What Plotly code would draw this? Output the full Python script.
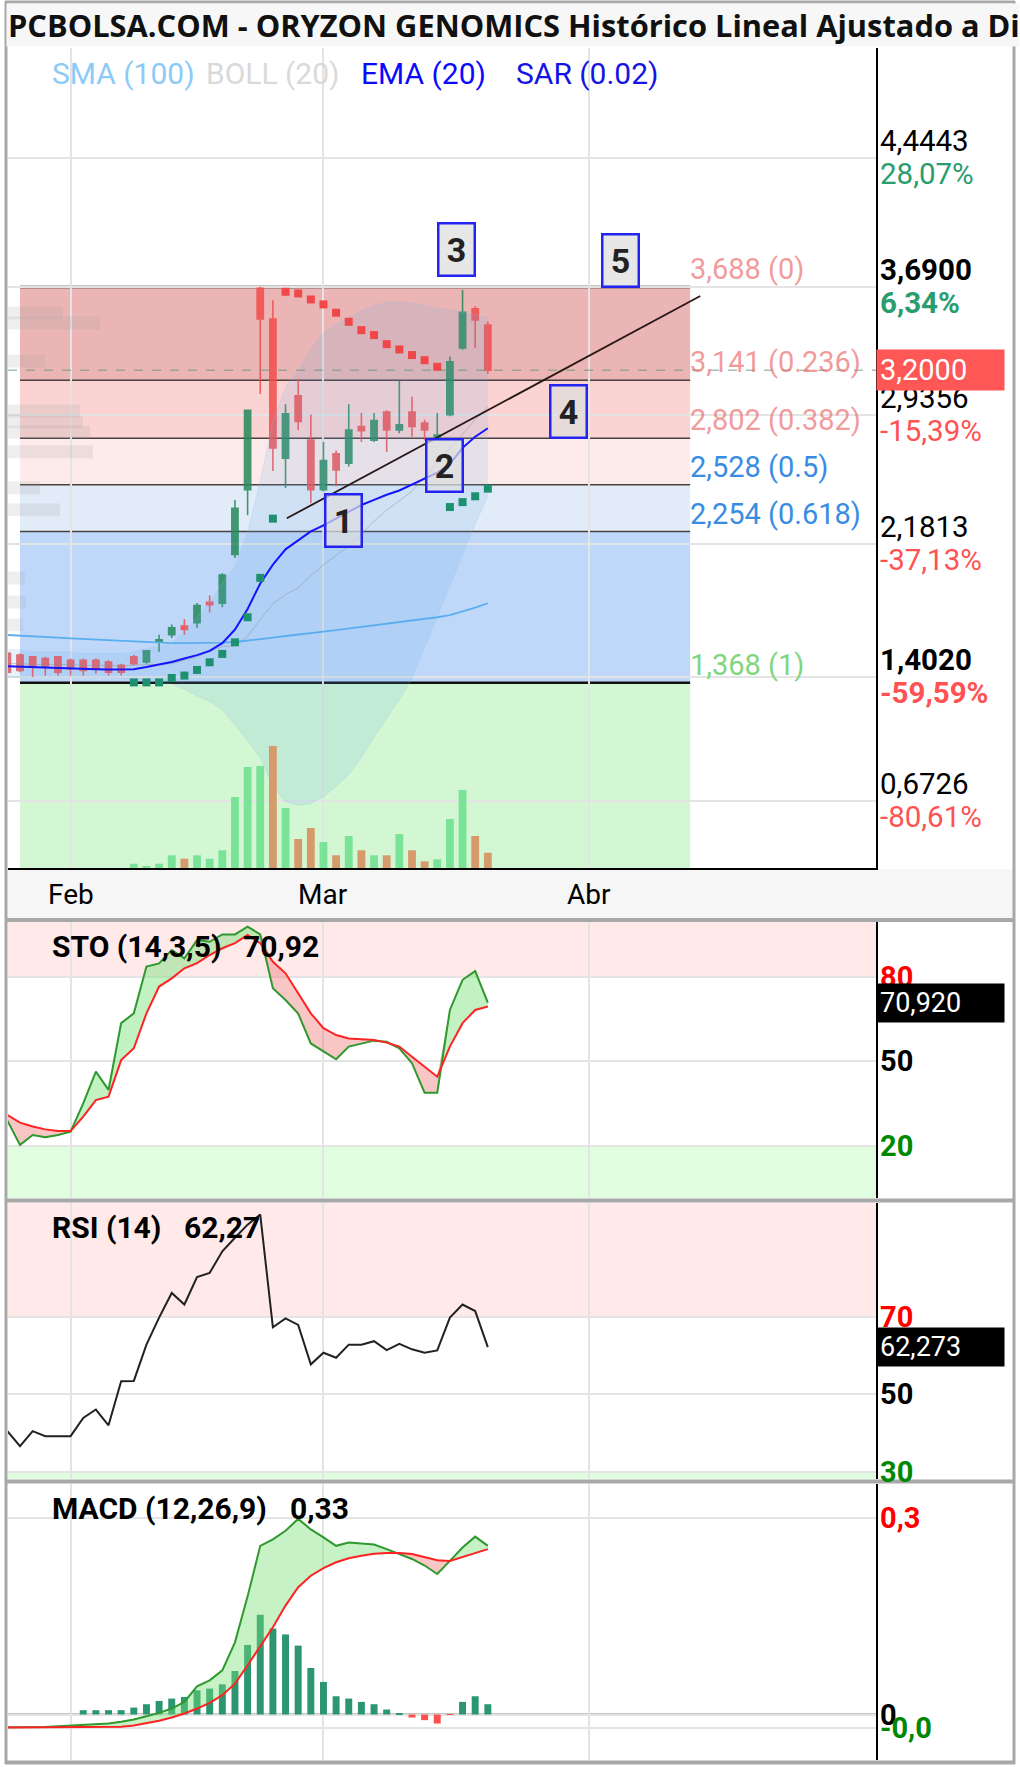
import plotly.graph_objects as go

# ---------------- DATA ----------------
dates = [
    "2025-01-27", "2025-01-28", "2025-01-29", "2025-01-30", "2025-01-31",
    "2025-02-03", "2025-02-04", "2025-02-05", "2025-02-06", "2025-02-07",
    "2025-02-10", "2025-02-11", "2025-02-12", "2025-02-13", "2025-02-14",
    "2025-02-17", "2025-02-18", "2025-02-19", "2025-02-20", "2025-02-21",
    "2025-02-24", "2025-02-25", "2025-02-26", "2025-02-27", "2025-02-28",
    "2025-03-03", "2025-03-04", "2025-03-05", "2025-03-06", "2025-03-07",
    "2025-03-10", "2025-03-11", "2025-03-12", "2025-03-13", "2025-03-14",
    "2025-03-17", "2025-03-18", "2025-03-19", "2025-03-20",
]
opens = [1.54, 1.53, 1.52, 1.51, 1.52, 1.50, 1.50, 1.50, 1.49, 1.47,
         1.52, 1.49, 1.61, 1.65, 1.70, 1.72, 1.84, 1.835, 2.12, 2.50,
         3.68, 3.50, 2.685, 3.05, 2.79, 2.50, 2.71, 2.655, 2.87, 2.79,
         2.955, 2.85, 2.955, 2.89, 2.80, 2.94, 3.33, 3.56, 3.465]
highs = [1.55, 1.54, 1.52, 1.52, 1.52, 1.51, 1.51, 1.51, 1.50, 1.48,
         1.53, 1.56, 1.65, 1.71, 1.74, 1.835, 1.88, 2.01, 2.44, 2.97,
         3.69, 3.61, 3.00, 3.15, 2.94, 2.78, 2.73, 3.00, 2.95, 2.95,
         2.965, 3.14, 3.045, 2.91, 2.95, 3.28, 3.67, 3.575, 3.485]
lows = [1.42, 1.43, 1.402, 1.41, 1.41, 1.41, 1.41, 1.42, 1.41, 1.41,
        1.47, 1.48, 1.55, 1.63, 1.65, 1.69, 1.78, 1.81, 2.10, 2.35,
        3.06, 2.61, 2.51, 2.85, 2.42, 2.49, 2.52, 2.635, 2.78, 2.78,
        2.72, 2.83, 2.81, 2.79, 2.79, 2.93, 3.32, 3.33, 3.18]
closes = [1.43, 1.44, 1.46, 1.46, 1.43, 1.45, 1.44, 1.45, 1.43, 1.43,
          1.48, 1.555, 1.62, 1.69, 1.68, 1.82, 1.825, 2.00, 2.39, 2.965,
          3.50, 2.745, 2.945, 2.90, 2.50, 2.67, 2.615, 2.85, 2.845, 2.905,
          2.85, 2.88, 2.87, 2.85, 2.82, 3.25, 3.54, 3.495, 3.20]
volume = [0, 0, 0, 0, 0, 0, 0, 0, 0, 0,
          0.43, 0.2, 0.43, 1.27, 0.93, 1.27, 0.93, 1.77, 7.1, 10.1,
          10.2, 12.2, 6.0, 2.9, 4.0, 2.6, 1.27, 3.2, 1.77, 1.27,
          1.27, 3.4, 1.77, 0.67, 0.87, 4.9, 7.8, 3.2, 1.53]
volume_dir = ["u"] * 10 + ["u", "u", "u", "u", "d", "u", "u", "u", "u", "u",
                           "u", "d", "u", "d", "d", "u", "d", "u", "d", "u",
                           "d", "u", "d", "d", "u", "u", "u", "d", "d"]
sma100 = [1.648, 1.645, 1.642, 1.638, 1.632, 1.628, 1.624, 1.620, 1.617, 1.614,
          1.610, 1.605, 1.602, 1.600, 1.600, 1.600, 1.600, 1.603, 1.607, 1.614,
          1.622, 1.632, 1.642, 1.652, 1.660, 1.668, 1.677, 1.686, 1.695, 1.705,
          1.714, 1.724, 1.733, 1.742, 1.752, 1.765, 1.785, 1.808, 1.834]
ema20 = [1.465, 1.462, 1.458, 1.455, 1.452, 1.450, 1.448, 1.447, 1.446, 1.445,
         1.447, 1.460, 1.475, 1.490, 1.510, 1.530, 1.555, 1.600, 1.680, 1.800,
         1.950, 2.060, 2.150, 2.200, 2.255, 2.290, 2.330, 2.370, 2.410, 2.440,
         2.470, 2.495, 2.530, 2.565, 2.600, 2.650, 2.745, 2.810, 2.860]
boll_upper = [1.56, 1.56, 1.55, 1.55, 1.55, 1.55, 1.54, 1.54, 1.54, 1.54,
              1.55, 1.57, 1.58, 1.60, 1.67, 1.75, 1.84, 1.95, 2.05, 2.25,
              2.55, 2.90, 3.10, 3.20, 3.33, 3.42, 3.47, 3.51, 3.55, 3.58,
              3.60, 3.60, 3.595, 3.58, 3.565, 3.555, 3.54, 3.525, 3.51]
boll_lower = [1.40, 1.40, 1.40, 1.40, 1.40, 1.40, 1.40, 1.40, 1.40, 1.39,
              1.39, 1.38, 1.37, 1.36, 1.33, 1.29, 1.26, 1.21, 1.12, 1.03,
              0.93, 0.76, 0.67, 0.65, 0.66, 0.70, 0.76, 0.83, 0.93, 1.05,
              1.16, 1.27, 1.39, 1.57, 1.75, 1.93, 2.12, 2.30, 2.46]
boll_mid = [1.48, 1.48, 1.475, 1.475, 1.475, 1.475, 1.47, 1.47, 1.47, 1.465,
            1.47, 1.475, 1.475, 1.48, 1.50, 1.52, 1.55, 1.58, 1.585, 1.64,
            1.74, 1.83, 1.885, 1.925, 1.995, 2.06, 2.115, 2.17, 2.24, 2.315,
            2.38, 2.435, 2.49, 2.575, 2.66, 2.74, 2.83, 2.91, 2.985]
sar = [None] * 10 + [1.37, 1.37, 1.37, 1.396, 1.41, 1.443, 1.488, 1.537, 1.605, 1.752,
                     1.983, 2.33, 3.66, 3.65, 3.615, 3.586, 3.537, 3.484, 3.435, 3.406,
                     3.353, 3.322, 3.289, 3.259, 3.22, 2.398, 2.427, 2.461, 2.506]
sto_k = [29.0, 20.4, 23.9, 23.1, 23.9, 25.1, 35.1, 46.4, 39.9, 63.6,
         67.1, 83.7, 84.8, 89.6, 86.6, 93.1, 92.5, 95.1, 95.1, 97.9,
         95.1, 76.0, 71.8, 67.0, 56.4, 53.5, 50.8, 55.3, 56.4, 57.4,
         57.0, 54.7, 49.4, 38.9, 38.9, 68.3, 79.0, 82.1, 70.92]
sto_d = [31.0, 28.3, 26.9, 25.9, 25.3, 25.3, 30.4, 36.3, 37.5, 50.5,
         54.7, 67.1, 76.6, 79.5, 83.1, 84.9, 87.8, 90.2, 92.0, 94.9,
         92.0, 85.4, 81.3, 74.2, 67.1, 61.8, 59.4, 58.2, 57.9, 57.6,
         56.7, 55.3, 51.7, 48.2, 44.6, 55.3, 63.6, 68.3, 69.5]
rsi = [40.5, 36.6, 40.5, 39.2, 39.2, 39.2, 43.9, 46.1, 42.0, 53.4,
       53.5, 62.9, 69.9, 76.3, 73.3, 80.4, 81.5, 87.1, 90.6, 94.0,
       96.6, 67.4, 69.7, 68.0, 57.8, 60.8, 59.5, 62.9, 62.9, 63.8,
       61.5, 63.1, 61.7, 60.8, 61.4, 69.9, 73.3, 71.6, 62.273]
macd = [-0.0195, -0.0195, -0.0195, -0.019, -0.018, -0.017, -0.016, -0.015, -0.0137, -0.011,
        -0.0076, -0.0025, 0.0025, 0.0091, 0.0192, 0.043, 0.052, 0.0673, 0.11, 0.18,
        0.257, 0.267, 0.28, 0.298, 0.282, 0.27, 0.257, 0.262, 0.26, 0.259,
        0.252, 0.245, 0.237, 0.227, 0.214, 0.234, 0.2545, 0.271, 0.257]
macd_signal = [-0.0198, -0.0198, -0.0198, -0.0198, -0.0198, -0.0197, -0.0197, -0.0196, -0.0194, -0.0187,
               -0.0167, -0.0137, -0.0096, -0.0046, 0.0015, 0.0091, 0.0177, 0.0294, 0.047, 0.075,
               0.103, 0.133, 0.166, 0.194, 0.2115, 0.223, 0.232, 0.238, 0.242, 0.245,
               0.246, 0.246, 0.2444, 0.240, 0.235, 0.234, 0.240, 0.245, 0.252]
macd_hist = [0, 0, 0, 0, 0, 0, 0.0066, 0.0066, 0.0066, 0.0066,
             0.0106, 0.0157, 0.0207, 0.0243, 0.0268, 0.0369, 0.0395, 0.046, 0.0663, 0.106,
             0.152, 0.131, 0.122, 0.105, 0.0709, 0.0496, 0.0278, 0.0243, 0.0192, 0.0157,
             0.0076, 0.001, -0.0046, -0.0086, -0.0137, -0.0005, 0.0192, 0.0278, 0.0157]
vp_price = [3.536, 3.477, 3.254, 2.961, 2.897, 2.838, 2.721, 2.51, 2.381, 1.982, 1.841, 1.707]
vp_volume = [55, 92, 37, 72, 75, 82, 85, 32, 52, 17, 18, 15]

fib_levels = [3.688, 3.141, 2.802, 2.528, 2.254, 1.368]
fib_ratios = ["0", "0.236", "0.382", "0.5", "0.618", "1"]
trend_x = [22.1, 54.8]
trend_y = [2.332, 3.635]
wave_labels = ["1", "2", "3", "4", "5"]
wave_x = [26.55, 34.54, 35.49, 44.35, 48.46]
wave_y = [2.322, 2.639, 3.905, 2.961, 3.846]

month_pos = [5, 25, 46]
month_labels = ["Feb", "Mar", "Abr"]
price_ticks = [5.1986, 4.4443, 3.69, 2.9356, 2.1813, 1.402, 0.6726]
price_tick_text = ["5,1986", "4,4443", "3,6900", "2,9356", "2,1813", "1,4020", "0,6726"]
price_tick_pct = ["49,81%", "28,07%", "6,34%", "-15,39%", "-37,13%", "-59,59%", "-80,61%"]
last_price = 3.20
last_price_text = "3,2000"

# ---------------- LAYOUT HELPERS ----------------
W, H = 1020, 1767
FONT = "Roboto"


def fx(p):
    return p / W


def fy(p):
    return 1 - p / H


sess = list(range(len(dates)))
X_DOM = [fx(8), fx(876)]
XR = [0.05, 68.7]
D_MAIN = [fy(868), fy(48)]
D_STO = [fy(1198), fy(922)]
D_RSI = [fy(1479), fy(1203)]
D_MACD = [fy(1760), fy(1484)]

fig = go.Figure()

# ---------------- MAIN PANEL ----------------
fig.add_trace(go.Scatter(x=sess, y=boll_lower, mode="lines",
                         line=dict(color="rgba(150,190,230,0.25)", width=1),
                         hoverinfo="skip", xaxis="x", yaxis="y"))
fig.add_trace(go.Scatter(x=sess, y=boll_upper, mode="lines",
                         line=dict(color="rgba(150,190,230,0.25)", width=1),
                         fill="tonexty", fillcolor="rgba(100,165,230,0.15)",
                         hoverinfo="skip", xaxis="x", yaxis="y"))
fig.add_trace(go.Scatter(x=sess, y=boll_mid, mode="lines",
                         line=dict(color="rgba(140,140,140,0.45)", width=1),
                         xaxis="x", yaxis="y"))
fig.add_trace(go.Scatter(x=sess, y=sma100, mode="lines",
                         line=dict(color="#5aaef0", width=1.8), xaxis="x", yaxis="y"))
fig.add_trace(go.Candlestick(
    x=sess, open=opens, high=highs, low=lows, close=closes,
    increasing=dict(line=dict(color="#25895a", width=1.6), fillcolor="#25895a"),
    decreasing=dict(line=dict(color="#f24c4c", width=1.6), fillcolor="#f24c4c"),
    opacity=0.85, whiskerwidth=0, xaxis="x", yaxis="y"))
fig.add_trace(go.Scatter(x=sess, y=ema20, mode="lines",
                         line=dict(color="#1414ff", width=2), xaxis="x", yaxis="y"))
sar_colors = [("#f04848" if (s is not None and s > c) else "#1d9070") for s, c in zip(sar, closes)]
fig.add_trace(go.Scatter(x=sess, y=sar, mode="markers",
                         marker=dict(symbol="square", size=8, color=sar_colors, line=dict(width=0)),
                         xaxis="x", yaxis="y"))
fig.add_trace(go.Scatter(x=trend_x, y=trend_y, mode="lines",
                         line=dict(color="#2a1818", width=1.8), xaxis="x", yaxis="y"))
vol_colors = ["#7be398" if d == "u" else "#d69b6d" for d in volume_dir]
fig.add_trace(go.Bar(x=sess, y=volume, width=0.62,
                     marker=dict(color=vol_colors, line=dict(width=0)),
                     xaxis="x", yaxis="y5"))
fig.add_trace(go.Bar(x=vp_volume, y=vp_price, orientation="h", width=0.075,
                     marker=dict(color="rgba(160,160,160,0.18)", line=dict(width=0)),
                     xaxis="x6", yaxis="y"))

# ---------------- STOCHASTIC ----------------
sto_top = [max(a, b) for a, b in zip(sto_k, sto_d)]
fig.add_trace(go.Scatter(x=sess, y=sto_d, mode="lines", line=dict(width=0), xaxis="x2", yaxis="y2"))
fig.add_trace(go.Scatter(x=sess, y=sto_top, mode="lines", line=dict(width=0), fill="tonexty",
                         fillcolor="rgba(120,225,120,0.45)", xaxis="x2", yaxis="y2"))
fig.add_trace(go.Scatter(x=sess, y=sto_k, mode="lines", line=dict(width=0), xaxis="x2", yaxis="y2"))
fig.add_trace(go.Scatter(x=sess, y=sto_top, mode="lines", line=dict(width=0), fill="tonexty",
                         fillcolor="rgba(240,120,120,0.42)", xaxis="x2", yaxis="y2"))
fig.add_trace(go.Scatter(x=sess, y=sto_k, mode="lines", line=dict(color="#2f982f", width=2),
                         xaxis="x2", yaxis="y2"))
fig.add_trace(go.Scatter(x=sess, y=sto_d, mode="lines", line=dict(color="#ff2222", width=2),
                         xaxis="x2", yaxis="y2"))

# ---------------- RSI ----------------
fig.add_trace(go.Scatter(x=sess, y=rsi, mode="lines", line=dict(color="#222222", width=2),
                         xaxis="x3", yaxis="y3"))

# ---------------- MACD ----------------
hist_colors = ["#2b9670" if v >= 0 else "#ff5050" for v in macd_hist]
fig.add_trace(go.Bar(x=sess, y=macd_hist, width=0.55, marker=dict(color=hist_colors, line=dict(width=0)),
                     xaxis="x4", yaxis="y4"))
macd_top = [max(a, b) for a, b in zip(macd, macd_signal)]
fig.add_trace(go.Scatter(x=sess, y=macd_signal, mode="lines", line=dict(width=0), xaxis="x4", yaxis="y4"))
fig.add_trace(go.Scatter(x=sess, y=macd_top, mode="lines", line=dict(width=0), fill="tonexty",
                         fillcolor="rgba(120,225,120,0.42)", xaxis="x4", yaxis="y4"))
fig.add_trace(go.Scatter(x=sess, y=macd, mode="lines", line=dict(width=0), xaxis="x4", yaxis="y4"))
fig.add_trace(go.Scatter(x=sess, y=macd_top, mode="lines", line=dict(width=0), fill="tonexty",
                         fillcolor="rgba(240,120,120,0.42)", xaxis="x4", yaxis="y4"))
fig.add_trace(go.Scatter(x=sess, y=macd, mode="lines", line=dict(color="#2f982f", width=2),
                         xaxis="x4", yaxis="y4"))
fig.add_trace(go.Scatter(x=sess, y=macd_signal, mode="lines", line=dict(color="#ff2222", width=2),
                         xaxis="x4", yaxis="y4"))

# ---------------- AXES ----------------
GRID = "#e4e4e4"
xcommon = dict(range=XR, domain=X_DOM, tickvals=month_pos, showticklabels=False, ticks="",
               showgrid=True, gridcolor=GRID, gridwidth=2, zeroline=False, fixedrange=True)
ycommon = dict(side="right", showticklabels=False, ticks="", showgrid=True, gridcolor=GRID,
               gridwidth=2, zeroline=False, showline=True, linecolor="black", linewidth=2,
               fixedrange=True)
fig.update_layout(
    xaxis=dict(**xcommon, anchor="y", showline=True, linecolor="black", linewidth=2,
               rangeslider=dict(visible=False)),
    yaxis=dict(**ycommon, domain=D_MAIN, range=[0.282, 5.089], anchor="x", tickvals=price_ticks),
    yaxis5=dict(overlaying="y", range=[0, 82], visible=False, anchor="x", fixedrange=True),
    xaxis6=dict(overlaying="x", range=[0, 868], visible=False, anchor="y", fixedrange=True),
    xaxis2=dict(**xcommon, anchor="y2"),
    yaxis2=dict(**ycommon, domain=D_STO, range=[1.54, 99.52], anchor="x2", tickvals=[20, 50, 80]),
    xaxis3=dict(**xcommon, anchor="y3"),
    yaxis3=dict(**ycommon, domain=D_RSI, range=[28.1, 99.6], anchor="x3", tickvals=[30, 50, 70]),
    xaxis4=dict(**xcommon, anchor="y4"),
    yaxis4=dict(**ycommon, domain=D_MACD, range=[-0.0693, 0.3512], anchor="x4", tickvals=[-0.02, 0, 0.3]),
)

# ---------------- SHAPES ----------------
shapes = []
band_colors = ["#ecb5b5", "#fcd3d3", "#fdeaea", "#e1ecf8", "#bfd8fa"]
for i, col in enumerate(band_colors):
    shapes.append(dict(type="rect", xref="x", yref="y", x0=1, x1=54, y0=fib_levels[i + 1], y1=fib_levels[i],
                       fillcolor=col, line=dict(width=0), layer="below"))
shapes.append(dict(type="rect", xref="x", yref="y", x0=1, x1=54, y0=-1, y1=fib_levels[-1],
                   fillcolor="#d3f7d3", line=dict(width=0), layer="below"))
for i, lv in enumerate(fib_levels):
    edge = i in (0, len(fib_levels) - 1)
    shapes.append(dict(type="line", xref="x", yref="y", x0=1, x1=54, y0=lv, y1=lv,
                       line=dict(color="#111111" if edge else "#4a4040", width=2.5 if edge else 1.5),
                       layer="below"))
# last price dashed line
shapes.append(dict(type="line", xref="paper", yref="y", x0=fx(8), x1=fx(876), y0=last_price, y1=last_price,
                   line=dict(color="rgba(110,150,120,0.6)", width=1.5, dash="dash")))
# oscillator zones
for ax, lo, hi in (("2", 80, 120), ("3", 70, 120)):
    shapes.append(dict(type="rect", xref=f"x{ax} domain", yref=f"y{ax}", x0=0, x1=1, y0=lo, y1=hi,
                       fillcolor="#ffe9e9", line=dict(width=0), layer="below"))
for ax, lo, hi in (("2", -10, 20), ("3", -10, 30)):
    shapes.append(dict(type="rect", xref=f"x{ax} domain", yref=f"y{ax}", x0=0, x1=1, y0=lo, y1=hi,
                       fillcolor="#e0fde0", line=dict(width=0), layer="below"))
shapes.append(dict(type="line", xref="x4 domain", yref="y4", x0=0, x1=1, y0=0, y1=0,
                   line=dict(color="#c4c4c4", width=3), layer="below"))
# frame / bands
shapes.append(dict(type="rect", xref="paper", yref="paper", x0=fx(8), x1=fx(1013), y0=fy(918), y1=fy(869),
                   fillcolor="#f6f6f6", line=dict(width=0), layer="below"))
for yy in (920, 1200.5, 1481.5, 1762.5):
    shapes.append(dict(type="line", xref="paper", yref="paper", x0=fx(5), x1=fx(1015), y0=fy(yy), y1=fy(yy),
                       line=dict(color="#a8a8a8", width=4)))
for xx in (6, 1014):
    shapes.append(dict(type="line", xref="paper", yref="paper", x0=fx(xx), x1=fx(xx), y0=fy(1764), y1=fy(1),
                       line=dict(color="#a8a8a8", width=3)))
shapes.append(dict(type="line", xref="paper", yref="paper", x0=fx(5), x1=fx(1015), y0=fy(2), y1=fy(2),
                   line=dict(color="#a8a8a8", width=3)))
fig.update_layout(shapes=shapes)

# ---------------- ANNOTATIONS ----------------
ann = []
LX = fx(878)


def txt(text, x, y, xref="paper", yref="paper", size=28, color="black", xanchor="left",
        yanchor="middle", bold=False, family=FONT, **kw):
    t = f"<b>{text}</b>" if bold else text
    d = dict(text=t, x=x, y=y, xref=xref, yref=yref, showarrow=False, xanchor=xanchor,
             yanchor=yanchor, font=dict(size=size, color=color, family=family))
    d.update(kw)
    ann.append(d)


# right price labels
for v, t, p in zip(price_ticks, price_tick_text, price_tick_pct):
    bold = v in (3.69, 1.402)
    pc = "#2a9d6f" if not p.startswith("-") else "#ff5252"
    txt(t, LX, v, yref="y", yanchor="bottom", bold=bold, yshift=-2, size=29.5)
    txt(p, LX, v, yref="y", yanchor="top", bold=bold, color=pc, yshift=3, size=29.5)

# title (covers the label above the top)
txt("PCBOLSA.COM - ORYZON GENOMICS Histórico Lineal Ajustado a Dividendos", fx(6), fy(3),
    size=30.8, color="#111111", yanchor="top", bold=True, family="Open Sans",
    width=1010, height=40, align="left", bgcolor="#f7f7f7", borderpad=1)

# indicator legend
for t, xpx, c in (("SMA (100)", 50, "#8ccbf6"), ("BOLL (20)", 204, "#d9d9d9"),
                  ("EMA (20)", 359, "#0a0aff"), ("SAR (0.02)", 514, "#1414e6")):
    txt(t, fx(xpx), fy(73), size=30, color=c)

# fib labels
fib_colors = ["rgba(236,110,110,0.7)"] * 3 + ["#3a8ce2"] * 2 + ["#7fd67f"]
for lv, r, c in zip(fib_levels, fib_ratios, fib_colors):
    txt(f"{lv:.3f}".replace(".", ",") + f" ({r})", 53.8, lv, xref="x", yref="y",
        yanchor="bottom", color=c, size=29, yshift=-1)

# wave boxes
for lbl, bx, by in zip(wave_labels, wave_x, wave_y):
    txt(lbl, bx, by, xref="x", yref="y", xanchor="center", size=34, color="#222222", bold=True,
        bgcolor="rgba(222,222,222,0.72)", bordercolor="#2424f0", borderwidth=2.5,
        borderpad=1, width=32, height=48)

# last price box
txt(last_price_text, fx(876), last_price, yref="y", color="white", size=29,
    bgcolor="#ff5656", width=121, align="left", borderpad=3)

# month labels
for pos, lab in zip(month_pos, month_labels):
    txt(lab, pos, fy(894), xref="x", xanchor="center", size=28)

# panel headers
txt("STO (14,3,5)", fx(50), fy(947), size=30, bold=True)
txt("70,92", fx(241), fy(947), size=30, bold=True)
txt("RSI (14)", fx(50), fy(1227), size=30, bold=True)
txt("62,27", fx(182), fy(1227), size=30, bold=True)
txt("MACD (12,26,9)", fx(50), fy(1508), size=30, bold=True)
txt("0,33", fx(288), fy(1508), size=30, bold=True)

# oscillator right labels
txt("80", LX, 80, yref="y2", color="#ff0000", bold=True, size=29)
txt("50", LX, 50, yref="y2", color="black", bold=True, size=29)
txt("20", LX, 20, yref="y2", color="#008800", bold=True, size=29)
txt("70,920", fx(876), sto_k[-1], yref="y2", color="white",
    size=27, bgcolor="black", width=121, align="left", borderpad=3)
txt("70", LX, 70, yref="y3", color="#ff0000", bold=True, size=29)
txt("50", LX, 50, yref="y3", color="black", bold=True, size=29)
txt("30", LX, 30, yref="y3", color="#008800", bold=True, size=29)
txt("62,273", fx(876), rsi[-1], yref="y3", color="white",
    size=27, bgcolor="black", width=121, align="left", borderpad=3)
txt("0,3", LX, 0.3, yref="y4", color="#ff0000", bold=True, size=29)
txt("0", LX, 0.0, yref="y4", color="black", bold=True, size=29)
txt("-0,0", LX, -0.02, yref="y4", color="#008800", bold=True, size=29)

fig.update_layout(
    annotations=ann,
    width=W, height=H, margin=dict(l=0, r=0, t=0, b=0, pad=0),
    paper_bgcolor="white", plot_bgcolor="white", showlegend=False,
    font=dict(family=FONT), hovermode=False, barmode="overlay",
)

fig.write_html("out.html", config={"displayModeBar": False})
